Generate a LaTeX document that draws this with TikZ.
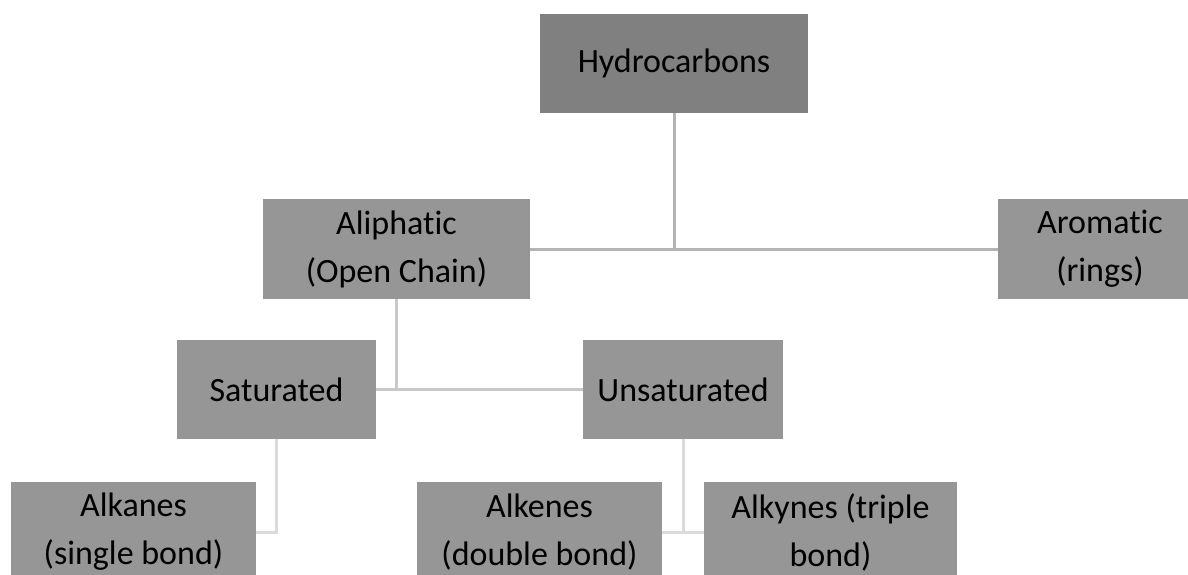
\documentclass[tikz,border=0pt]{standalone}
\usepackage{fontspec}
\setmainfont{Carlito}[Ligatures={NoCommon,NoRare,NoContextual},Contextuals={NoAlternate}]
\begin{document}
\begin{tikzpicture}[x=1pt,y=-1pt,
  box/.style={rectangle,fill=boxgray,inner sep=0pt,align=center,
    font=\fontsize{34}{48}\selectfont,text=black},
  lvlA/.style={draw=lineA,line width=3pt},
  lvlB/.style={draw=lineB,line width=3pt},
  lvlC/.style={draw=lineC,line width=3pt}]
\definecolor{boxgray}{HTML}{969696}
\definecolor{topgray}{HTML}{808080}
\definecolor{lineA}{HTML}{B4B4B4}
\definecolor{lineB}{HTML}{C8C8C8}
\definecolor{lineC}{HTML}{DADADA}
\useasboundingbox (0,0) rectangle (1188,574);
\clip (0,0) rectangle (1188,574);
\node[box,fill=topgray,minimum width=268pt,minimum height=99pt] (hc) at (674,63.5) {Hydrocarbons};
\node[box,minimum width=267pt,minimum height=100pt] (ali) at (396.5,249) {Aliphat\kern0pt ic\\(Open Chain)};
\node[box,minimum width=204pt,minimum height=100pt] (aro) at (1100,249) {Aromat\kern0pt ic\\(rings)};
\node[box,minimum width=199pt,minimum height=99pt] (sat) at (276.5,389.5) {Saturated};
\node[box,minimum width=200pt,minimum height=99pt] (uns) at (683,389.5) {Unsaturated};
\node[box,minimum width=245pt,minimum height=100pt] (alka) at (133.5,532) {Alkanes\\(single bond)};
\node[box,minimum width=245pt,minimum height=100pt] (alke) at (539.5,532) {Alkenes\\(double bond)};
\node[box,minimum width=253pt,minimum height=100pt] (alky) at (830.5,532) {Alkynes (triple\\bond)};
\draw[lvlA] (ali.east) -- (aro.west);
\draw[lvlA] (hc.south) -- (hc.south |- ali.east);
\draw[lvlB] (sat.east) -- (uns.west);
\draw[lvlB] (ali.south) -- (ali.south |- sat.east);
\draw[lvlC] (sat.south) |- (alka.east);
\draw[lvlC] (alke.east) -- (alky.west);
\draw[lvlC] (uns.south) -- (uns.south |- alke.east);
\end{tikzpicture}
\end{document}
